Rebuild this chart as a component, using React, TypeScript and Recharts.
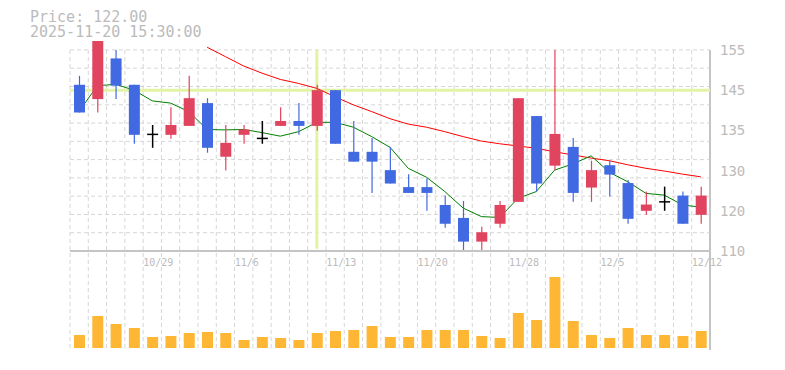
import {
  ComposedChart,
  Bar,
  Line,
  XAxis,
  YAxis,
  CartesianGrid,
  ReferenceLine,
} from "recharts";

// trading days, 10/23 - 12/12
const dates = [
  "10/23", "10/24", "10/27", "10/28", "10/29", "10/30", "10/31", "11/4", "11/5", "11/6",
  "11/7", "11/10", "11/11", "11/12", "11/13", "11/14", "11/17", "11/18", "11/19", "11/20",
  "11/21", "11/25", "11/26", "11/27", "11/28", "12/1", "12/2", "12/3", "12/4", "12/5",
  "12/8", "12/9", "12/10", "12/11", "12/12",
];

const opens = [
  147.2, 144.0, 153.1, 147.2, 136.1, 136.0, 138.0, 143.1, 131.1, 136.0,
  135.2, 138.0, 139.1, 138.0, 146.0, 132.2, 132.2, 128.1, 124.3, 124.3,
  120.3, 117.4, 112.1, 116.1, 121.0, 140.2, 129.1, 133.3, 124.2, 129.2,
  125.2, 119.0, 121.0, 122.4, 118.1,
];
const highs = [
  149.2, 158.0, 155.0, 147.2, 138.2, 142.2, 149.2, 144.2, 138.2, 138.2,
  139.1, 142.2, 143.1, 147.2, 146.0, 139.1, 135.3, 133.3, 127.2, 126.3,
  122.4, 121.2, 115.4, 121.2, 144.2, 140.2, 155.0, 135.3, 130.2, 130.2,
  125.9, 123.3, 124.4, 123.3, 124.4,
];
const lows = [
  141.0, 141.0, 144.0, 134.0, 133.1, 135.1, 138.0, 132.0, 128.0, 134.0,
  134.0, 138.0, 136.0, 136.9, 134.0, 130.0, 123.0, 125.1, 123.0, 119.0,
  115.2, 110.0, 110.0, 115.2, 121.0, 123.3, 128.1, 121.0, 121.0, 122.2,
  116.1, 118.1, 119.0, 116.1, 116.1,
];
const closes = [
  141.0, 158.0, 147.0, 136.0, 136.1, 138.2, 144.2, 133.1, 134.2, 137.2,
  135.2, 139.1, 138.0, 146.0, 134.0, 130.0, 130.0, 125.1, 123.0, 123.0,
  116.1, 112.1, 114.2, 120.3, 144.2, 125.1, 136.2, 123.0, 128.1, 127.1,
  117.2, 120.4, 121.0, 116.1, 122.4,
];

// 5-day and 25-day moving averages
const ma5 = [
  141.3, 147.0, 147.3, 146.0, 143.6, 143.1, 141.2, 137.2, 137.1, 137.2,
  136.5, 135.7, 136.7, 138.8, 138.8, 137.7, 135.6, 133.2, 128.5, 126.5,
  123.3, 119.6, 117.7, 117.5, 121.8, 123.3, 128.1, 129.5, 131.3, 127.6,
  125.5, 122.9, 122.5, 120.3, 119.8,
];
const ma25 = [
  null, null, null, null, null, null, null, 155.6, 153.5, 151.4,
  149.8, 148.4, 147.5, 146.4, 144.5, 142.7, 141.2, 139.6, 138.4, 137.7,
  136.7, 135.6, 134.6, 134.0, 133.5, 133.0, 132.2, 131.5, 130.8, 130.2,
  129.3, 128.5, 127.9, 127.2, 126.6,
];

// volume (thousand shares)
const volumes = [
  13, 32, 24, 20, 11, 12, 15, 16, 15, 8,
  11, 10, 8, 15, 17, 18, 22, 11, 11, 18,
  18, 18, 12, 10, 35, 28, 71, 27, 13, 10,
  20, 13, 13, 12, 17,
];

const labelDays = [5, 10, 15, 20, 25, 30, 35];
const priceTicks = [110, 119, 128, 137, 146, 155];
const crossDay = 14;
const crossPrice = 146;

const RED = "#e1445f";
const BLUE = "#4169e1";
const GRAY = "#bbbbbb";
const GRID = "#d6d6d6";
const CROSS = "#e2f3a6";

const rows = dates.map((d, i) => ({
  i: i + 1,
  date: d,
  open: opens[i],
  high: highs[i],
  low: lows[i],
  close: closes[i],
  range: [lows[i], highs[i]],
  ma5: ma5[i],
  ma25: ma25[i],
  vol: volumes[i],
}));

// grid: one vertical line between every day, 11 horizontal bands
const dayEdges = [...dates.map((_, i) => i + 0.5), dates.length + 0.5];
const gridPrices = Array.from({ length: 12 }, (_, k) => 110 + (k * 45) / 11);

function Candle(props: any) {
  const { x, y, width, height, payload } = props;
  const { open, close, high, low } = payload;
  const k = height / (high - low);
  const cx = x + width / 2;
  const yOf = (p: number) => y + (high - p) * k;

  if (open === close) {
    const yc = yOf(open);
    return (
      <g stroke="#000" strokeWidth={1.5}>
        <line x1={cx} x2={cx} y1={y} y2={y + height} />
        <line x1={x} x2={x + width} y1={yc} y2={yc} />
      </g>
    );
  }

  const color = close > open ? RED : BLUE;
  const top = yOf(Math.max(open, close));
  const bottom = yOf(Math.min(open, close));
  return (
    <g>
      <line x1={cx} x2={cx} y1={y} y2={y + height} stroke={color} strokeWidth={1.2} />
      <rect x={x} y={top} width={width} height={bottom - top} fill={color} />
    </g>
  );
}

export default function App() {
  return (
    <div
      style={{
        position: "absolute",
        left: 0,
        top: 0,
        width: 785,
        height: 370,
        background: "#fff",
        fontFamily: "'DejaVu Sans Mono', monospace",
      }}
    >
      <div
        style={{
          position: "absolute",
          left: 30,
          top: 10,
          fontSize: 15,
          lineHeight: "15px",
          color: GRAY,
          whiteSpace: "pre",
        }}
      >
        {"Price: 122.00\n2025-11-20 15:30:00"}
      </div>

      {/* volume panel + vertical grid + frame */}
      <div style={{ position: "absolute", left: 0, top: 0 }}>
        <ComposedChart
          width={785}
          height={370}
          data={rows}
          margin={{ top: 50, right: 10, bottom: 20, left: 70 }}
        >
          <CartesianGrid horizontal={false} stroke={GRID} strokeDasharray="4 3" />
          <XAxis
            dataKey="i"
            type="number"
            domain={[0.5, 35.5]}
            ticks={dayEdges}
            interval={0}
            tick={{ fontSize: 0 }}
            tickFormatter={() => ""}
            tickLine={false}
            height={0}
            axisLine={{ stroke: "#c4c4c4", strokeWidth: 2 }}
          />
          <YAxis
            orientation="right"
            width={65}
            domain={[-2, 298]}
            tick={false}
            tickLine={false}
            axisLine={{ stroke: "#c4c4c4", strokeWidth: 2 }}
          />
          <Bar dataKey="vol" fill="#fdb735" barSize={11} isAnimationActive={false} />
        </ComposedChart>
      </div>

      {/* price panel */}
      <div style={{ position: "absolute", left: 0, top: 0 }}>
        <ComposedChart
          width={785}
          height={280}
          data={rows}
          margin={{ top: 41, right: 10, bottom: 0, left: 70 }}
        >
          <CartesianGrid
            vertical={false}
            horizontalValues={gridPrices}
            stroke={GRID}
            strokeDasharray="4 3"
          />
          <XAxis
            dataKey="i"
            type="number"
            domain={[0.5, 35.5]}
            ticks={labelDays}
            interval={0}
            tickFormatter={(v: number) => dates[v - 1]}
            tickLine={false}
            tickSize={6}
            tickMargin={2}
            height={29}
            axisLine={{ stroke: "#c4c4c4", strokeWidth: 2 }}
            tick={{ fill: GRAY, fontSize: 10, textAnchor: "start", dx: -9 }}
          />
          <YAxis
            orientation="right"
            width={65}
            domain={[110, 157]}
            allowDataOverflow
            ticks={priceTicks}
            interval={0}
            tickFormatter={(v: number) => String(Math.round(v / 5) * 5)}
            tickLine={false}
            axisLine={false}
            tickMargin={4}
            tick={{ fill: GRAY, fontSize: 14 }}
          />
          <ReferenceLine y={crossPrice} stroke={CROSS} strokeWidth={3} zIndex={10} />
          <ReferenceLine
            segment={[
              { x: crossDay, y: 110.5 },
              { x: crossDay, y: 155 },
            ]}
            stroke={CROSS}
            strokeWidth={3}
            zIndex={10}
          />
          <Line
            dataKey="ma25"
            type="linear"
            stroke="#ff0000"
            strokeWidth={1}
            dot={false}
            isAnimationActive={false}
            zIndex={100}
          />
          <Line
            dataKey="ma5"
            type="linear"
            stroke="#008000"
            strokeWidth={1}
            dot={false}
            isAnimationActive={false}
            zIndex={100}
          />
          <Bar
            dataKey="range"
            barSize={11}
            shape={<Candle />}
            isAnimationActive={false}
            zIndex={300}
          />
        </ComposedChart>
      </div>
    </div>
  );
}
